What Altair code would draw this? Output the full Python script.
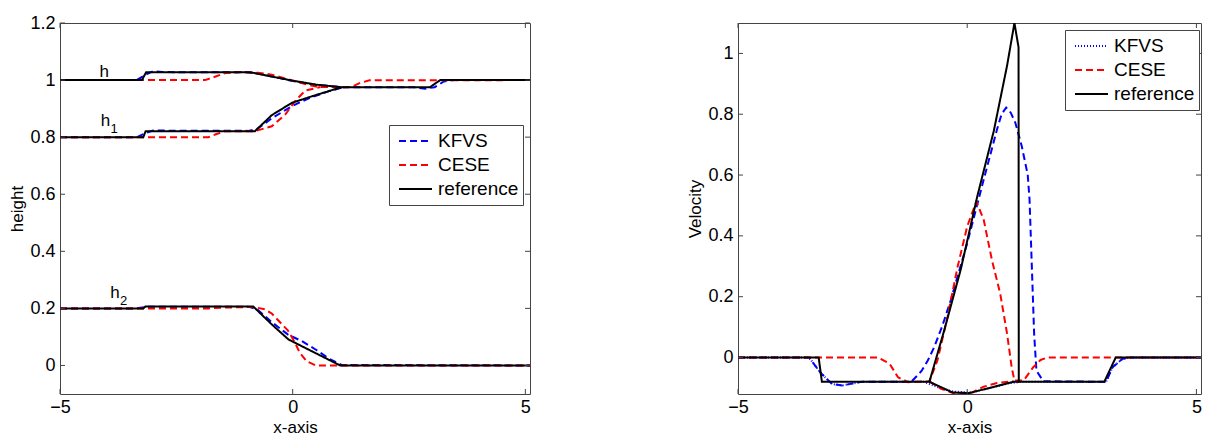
import altair as alt
import pandas as pd

FONT = "Liberation Sans"
AXC = "#444444"
BLUE, RED, BLACK = "#0000ff", "#ff0000", "#000000"

# ---------------- left panel: heights ----------------
x_ticks = [-5, 0, 5]
h_ticks = [0, 0.2, 0.4, 0.6, 0.8, 1.0, 1.2]
v_ticks = [0, 0.2, 0.4, 0.6, 0.8, 1.0]

ref_h_x = [-5, -3.24, -3.15, -0.9, -0.5, 0.0, 0.5, 1.05, 2.95, 3.17, 5.1]
ref_h_y = [1.0, 1.0, 1.027, 1.027, 1.014, 0.998, 0.984, 0.975, 0.975, 1.0, 1.0]
ref_h1_x = [-5, -3.21, -3.16, -0.81, -0.45, -0.02, 0.41, 1.05]
ref_h1_y = [0.8, 0.8, 0.821, 0.821, 0.877, 0.92, 0.943, 0.975]
ref_h2_x = [-5, -3.21, -3.16, -0.85, -0.45, -0.09, 0.41, 1.02, 5.1]
ref_h2_y = [0.2, 0.2, 0.207, 0.207, 0.144, 0.091, 0.05, 0.0, 0.0]

kfvs_h_x = [-5, -3.35, -3.15, -3.0, -2.8, -1.0, -0.7, -0.4, 0.0, 0.5, 1.1, 2.6, 2.85, 3.05, 3.25, 3.45, 5.1]
kfvs_h_y = [1.0, 1.0, 1.02, 1.031, 1.028, 1.027, 1.022, 1.011, 0.997, 0.983, 0.975, 0.975, 0.97, 0.975, 0.995, 1.0, 1.0]
kfvs_h1_x = [-5, -3.35, -3.15, -3.0, -0.95, -0.75, -0.45, 0.0, 0.4, 0.8, 1.1]
kfvs_h1_y = [0.8, 0.8, 0.815, 0.823, 0.822, 0.83, 0.866, 0.91, 0.94, 0.962, 0.975]
kfvs_h2_x = [-5, -3.35, -3.1, -0.95, -0.75, -0.45, -0.1, 0.2, 0.5, 0.8, 1.05, 5.1]
kfvs_h2_y = [0.2, 0.2, 0.206, 0.206, 0.195, 0.152, 0.108, 0.085, 0.055, 0.022, 0.002, 0.0]

cese_h_x = [-5, -1.88, -1.7, -1.45, -1.1, -0.75, -0.45, -0.02, 0.27, 0.55, 1.05, 1.26, 1.45, 1.65, 5.1]
cese_h_y = [1.0, 1.0, 1.01, 1.025, 1.028, 1.026, 1.019, 0.999, 0.986, 0.976, 0.975, 0.976, 0.99, 0.999, 1.0]
cese_h1_x = [-5, -1.81, -1.65, -1.45, -0.81, -0.45, -0.16, 0.05, 0.27, 0.6]
cese_h1_y = [0.8, 0.8, 0.81, 0.821, 0.821, 0.838, 0.879, 0.926, 0.963, 0.976]
cese_h2_x = [-5, -1.8, -1.45, -0.85, -0.6, -0.45, -0.1, 0.05, 0.15, 0.3, 0.5, 5.1]
cese_h2_y = [0.2, 0.2, 0.203, 0.205, 0.197, 0.182, 0.122, 0.08, 0.045, 0.015, 0.0, 0.0]

lab_main = ["h", "h", "h"]
lab_sub = ["", "1", "2"]
lab_x = [-4.05, -4.02, -3.82]
lab_y = [1.01, 0.838, 0.237]

# ---------------- right panel: velocities ----------------
ref_u1_x = [-5, -3.24, -3.17, -0.825, -0.5, -0.14, 0.22, 0.58, 0.87, 1.03, 1.12, 1.125, 2.99, 3.24, 5.1]
ref_u1_y = [0, 0, -0.08, -0.08, 0.09, 0.29, 0.53, 0.745, 0.96, 1.1, 1.02, -0.08, -0.08, 0, 0]
ref_u2_x = [-0.825, -0.32, 0.04, 1.01, 1.13]
ref_u2_y = [-0.08, -0.115, -0.117, -0.08, -0.08]

kfvs_u1_x = [-5, -3.45, -3.2, -2.95, -2.73, -2.3, -1.22, -1.0, -0.86, -0.72, -0.54, -0.36, 0.0, 0.36,
             0.65, 0.75, 0.85, 0.95, 1.05, 1.19, 1.32, 1.36, 1.41, 1.46, 1.51, 1.66, 3.03, 3.17, 3.39, 3.55, 5.1]
kfvs_u1_y = [0, 0, -0.05, -0.087, -0.092, -0.08, -0.08, -0.045, -0.01, 0.034, 0.105, 0.188, 0.376, 0.585,
             0.75, 0.8, 0.822, 0.805, 0.772, 0.695, 0.601, 0.519, 0.298, 0.078, -0.043, -0.078, -0.08, -0.032, -0.004, 0, 0]
kfvs_u2_x = [-5, -3.45, -3.2, -2.95, -2.73, -2.3, -0.95, -0.6, -0.3, 0.1, 0.5, 0.9, 1.2, 3.03, 3.17, 3.39, 3.55, 5.1]
kfvs_u2_y = [0, 0, -0.05, -0.087, -0.092, -0.08, -0.08, -0.1, -0.112, -0.115, -0.1, -0.085, -0.08, -0.08, -0.032, -0.004, 0, 0]

cese_u1_x = [-5, -1.94, -1.69, -1.51, -1.29, -0.825, -0.65, -0.43, -0.21, 0.0, 0.2, 0.36, 0.54, 0.72, 0.87,
             0.97, 1.03, 1.23, 1.44, 1.6, 1.75, 5.1]
cese_u1_y = [0, 0, -0.021, -0.065, -0.081, -0.078, -0.01, 0.133, 0.298, 0.431, 0.513, 0.453, 0.32, 0.21, 0.078,
             -0.032, -0.076, -0.076, -0.032, -0.008, 0, 0]
cese_u2_x = [-0.825, -0.57, -0.28, -0.07, 0.11, 0.36, 0.65, 1.01]
cese_u2_y = [-0.078, -0.103, -0.118, -0.12, -0.115, -0.096, -0.084, -0.078]


def make_df(series):
    rows = []
    for style, curve, xs, ys in series:
        for i, (x, y) in enumerate(zip(xs, ys)):
            rows.append({"style": style, "curve": curve, "x": x, "y": y, "i": i})
    return pd.DataFrame(rows)


left_df = make_df([
    ("KFVS", "k_h", kfvs_h_x, kfvs_h_y), ("KFVS", "k_h1", kfvs_h1_x, kfvs_h1_y), ("KFVS", "k_h2", kfvs_h2_x, kfvs_h2_y),
    ("CESE", "c_h", cese_h_x, cese_h_y), ("CESE", "c_h1", cese_h1_x, cese_h1_y), ("CESE", "c_h2", cese_h2_x, cese_h2_y),
    ("reference", "r_h", ref_h_x, ref_h_y), ("reference", "r_h1", ref_h1_x, ref_h1_y), ("reference", "r_h2", ref_h2_x, ref_h2_y),
])
right_df = make_df([
    ("KFVS dashed", "k_u1", kfvs_u1_x, kfvs_u1_y), ("KFVS", "k_u2", kfvs_u2_x, kfvs_u2_y),
    ("CESE", "c_u1", cese_u1_x, cese_u1_y), ("CESE", "c_u2", cese_u2_x, cese_u2_y),
    ("reference", "r_u1", ref_u1_x, ref_u1_y), ("reference", "r_u2", ref_u2_x, ref_u2_y),
])
labels_df = pd.DataFrame({"main": lab_main, "sub": lab_sub, "x": lab_x, "y": lab_y})

W1, W2, H = 470, 463, 371
TICK = 5

xscale = alt.Scale(domain=[-5, 5.1], nice=False, zero=False)
yscale_l = alt.Scale(domain=[-0.1, 1.2], nice=False, zero=False)
yscale_r = alt.Scale(domain=[-0.12, 1.1], nice=False, zero=False)

xaxis = alt.Axis(values=x_ticks, title="x-axis", labelFlush=False, labelPadding=4, titlePadding=3)
yaxis_l = alt.Axis(values=h_ticks, title="height", format="~g", labelPadding=5, titlePadding=3)
yaxis_r = alt.Axis(values=v_ticks, title="Velocity", format="~g", labelPadding=5, titlePadding=3)


def legend(lx, ly, values=None):
    kw = dict(title=None, orient="none", legendX=lx, legendY=ly, direction="vertical",
              symbolType="stroke", symbolSize=1089, symbolStrokeWidth=2,
              labelFont=FONT, labelFontSize=19, labelColor="black", labelOffset=5,
              padding=4, strokeColor=AXC, fillColor="white", clipHeight=24, rowPadding=0,
              symbolOffset=5)
    if values is not None:
        kw["values"] = values
    return alt.Legend(**kw)


def panel(df, W, yscale, yaxis, ticks_y, styles, dom, col_rng, dash_rng, leg):
    color = alt.Color("style:N", scale=alt.Scale(domain=dom, range=col_rng), legend=leg)
    dash = alt.StrokeDash("style:N", scale=alt.Scale(domain=dom, range=dash_rng), legend=leg)
    layers = []
    for s in styles:
        layers.append(
            alt.Chart(df).transform_filter(alt.datum.style == s)
            .mark_line(strokeWidth=2, clip=True)
            .encode(x=alt.X("x:Q", scale=xscale, axis=xaxis),
                    y=alt.Y("y:Q", scale=yscale, axis=yaxis),
                    color=color, strokeDash=dash, detail="curve:N", order="i:Q")
        )
    xt = pd.DataFrame({"x": x_ticks})
    yt = pd.DataFrame({"y": ticks_y})
    for y0, y1 in [(H, H - TICK), (0, TICK)]:
        layers.append(alt.Chart(xt).mark_rule(color=AXC, strokeWidth=1).encode(
            x=alt.X("x:Q", scale=xscale, axis=xaxis), y=alt.value(y0), y2=alt.value(y1)))
    for x0, x1 in [(0, TICK), (W - TICK, W)]:
        layers.append(alt.Chart(yt).mark_rule(color=AXC, strokeWidth=1).encode(
            y=alt.Y("y:Q", scale=yscale, axis=yaxis), x=alt.value(x0), x2=alt.value(x1)))
    return layers


left_layers = panel(left_df, W1, yscale_l, yaxis_l, h_ticks,
                    ["KFVS", "CESE", "reference"], ["KFVS", "CESE", "reference"],
                    [BLUE, RED, BLACK], [[7, 4], [7, 4], [1, 0]], legend(329, 102))
left_layers.append(alt.Chart(labels_df).mark_text(font=FONT, fontSize=17, align="center", baseline="alphabetic",
                                                  color="black").encode(
    x=alt.X("x:Q", scale=xscale, axis=xaxis), y=alt.Y("y:Q", scale=yscale_l, axis=yaxis_l), text="main:N"))
left_layers.append(alt.Chart(labels_df).mark_text(font=FONT, fontSize=13, align="left", baseline="alphabetic",
                                                  dx=5, dy=7, color="black").encode(
    x=alt.X("x:Q", scale=xscale, axis=xaxis), y=alt.Y("y:Q", scale=yscale_l, axis=yaxis_l), text="sub:N"))
left = alt.layer(*left_layers).properties(width=W1, height=H)

right_layers = panel(right_df, W2, yscale_r, yaxis_r, v_ticks,
                     ["KFVS dashed", "KFVS", "CESE", "reference"],
                     ["KFVS", "CESE", "reference", "KFVS dashed"],
                     [BLUE, RED, BLACK, BLUE], [[1, 2], [7, 4], [1, 0], [7, 4]],
                     legend(327, 7, values=["KFVS", "CESE", "reference"]))
right = alt.layer(*right_layers).properties(width=W2, height=H)

chart = (
    alt.hconcat(left, right, spacing=208, bounds="flush")
    .resolve_scale(color="independent", strokeDash="independent")
    .resolve_legend(color="independent", strokeDash="independent")
    .properties(padding={"left": 0, "top": 5, "right": 0, "bottom": 0})
    .configure_view(stroke=AXC, strokeWidth=1)
    .configure_axis(labelFont=FONT, labelFontSize=18, labelColor="black",
                    titleFont=FONT, titleFontSize=17, titleFontWeight="normal", titleColor="black",
                    domain=False, ticks=False, grid=False)
)

chart.save("out.html", embed_options={"renderer": "svg", "actions": False})
